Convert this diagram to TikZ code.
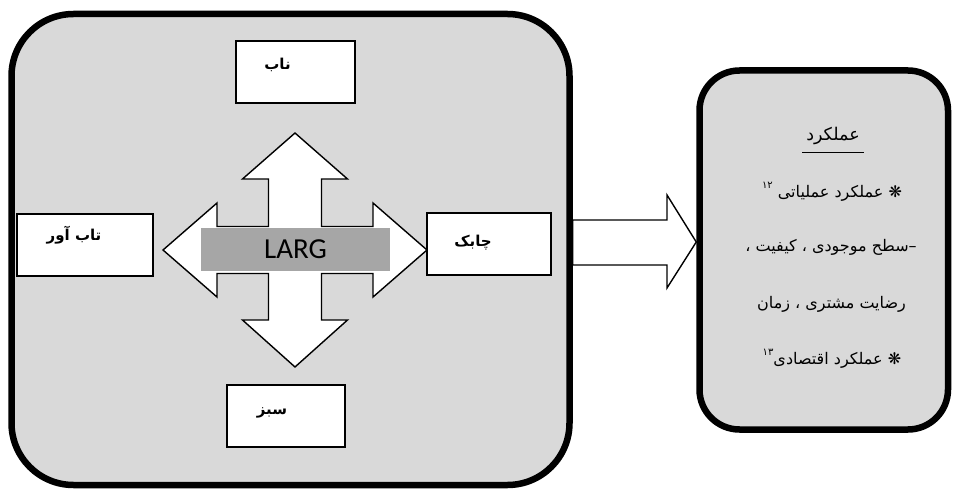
\documentclass[tikz,border=0pt]{standalone}
\usepackage{fontspec}
\TeXXeTstate=1
\newfontfamily\arabicfont[Script=Arabic]{DejaVu Sans}
\newfontfamily\largfont{Carlito}
\usetikzlibrary{calc}

\definecolor{panelgray}{HTML}{D9D9D9}
\definecolor{bargray}{HTML}{A6A6A6}

% right-to-left Persian text
\newcommand{\rtl}[1]{{\arabicfont\beginR #1\endR}}
\newcommand{\supnum}[1]{\raisebox{1.0ex}{\fontsize{10}{10}\selectfont #1}}

\begin{document}
\begin{tikzpicture}[x=1pt,y=-1pt,
  panel/.style={draw=black, line width=6.5pt, fill=panelgray, inner sep=0pt},
  factor/.style={draw=black, line width=1.5pt, fill=white, minimum height=62pt, inner sep=0pt},
  factorlabel/.style={inner sep=0pt, font=\bfseries\fontsize{15}{17}\selectfont},
  blockarrow/.style={draw=black, line width=1.4pt, fill=white, line join=miter},
  bodyline/.style={inner sep=0pt, font=\fontsize{16}{18}\selectfont}]
\useasboundingbox (0,0) rectangle (953,492);

% the two rounded panels
\node[panel, rounded corners=62pt, minimum width=558pt, minimum height=471pt] (left) at (290.5,249.5) {};
\node[panel, rounded corners=40pt, minimum width=248.5pt, minimum height=359pt] (right) at (823.75,250) {};

% block arrow between the panels
\draw[blockarrow] (left.east |- 0,220) -- (667,220) -- (667,195) -- (right.west |- 0,242)
  -- (667,288) -- (667,265) -- (left.east |- 0,265) -- cycle;

% four-way arrow in the left panel
\coordinate (hub) at (295,250);
\draw[blockarrow, shift={(hub)}]
  (0,-117) -- (52.5,-71) -- (26.5,-71) -- (26.5,-23.5) -- (78,-23.5) -- (78,-47) -- (132,0)
  -- (78,47) -- (78,23.5) -- (26.5,23.5) -- (26.5,70) -- (52.5,70) -- (0,117)
  -- (-52.5,70) -- (-26.5,70) -- (-26.5,23.5) -- (-78,23.5) -- (-78,47) -- (-132,0)
  -- (-78,-47) -- (-78,-23.5) -- (-26.5,-23.5) -- (-26.5,-71) -- (-52.5,-71) -- cycle;

\node[fill=bargray, minimum width=189pt, minimum height=43pt, inner sep=0pt,
  font=\largfont\fontsize{29}{29}\selectfont] (larg) at (295.5,249.5) {LARG};

% the four factor boxes
\node[factor, minimum width=119pt] (nab) at (295.5,72) {};
\node[factor, minimum width=136pt] (tabavar) at (85,245) {};
\node[factor, minimum width=124pt] (chabok) at (489,244) {};
\node[factor, minimum width=118pt] (sabz) at (286,416) {};

\node[factorlabel] (nabtxt) at ($(nab.center)+(-18,-7)$) {\rtl{ناب}};
\node[factorlabel] (tabavartxt) at ($(tabavar.center)+(-11,-10)$) {\rtl{تاب آور}};
\node[factorlabel] (chaboktxt) at ($(chabok.center)+(-16,-1)$) {\rtl{چابک}};
\node[factorlabel] (sabztxt) at ($(sabz.center)+(-14,-3)$) {\rtl{سبز}};

% performance panel text
\node[inner sep=0pt, font=\fontsize{17.5}{19}\selectfont] (title) at (833,136) {\rtl{عملکرد}};
\draw[line width=1pt] ($(title.center)+(-31,17)$) -- ($(title.center)+(31,17)$);
\node[bodyline] (l1) at (832,192) {\rtl{❋ عملکرد عملیاتی \supnum{۱۲}}};
\node[bodyline] (l2) at (831,247) {\rtl{–\kern0pt سطح موجودی ، کیفیت ،}};
\node[bodyline] (l3) at (831.5,304) {\rtl{رضایت مشتری ، زمان}};
\node[bodyline] (l4) at (832,359) {\rtl{❋ عملکرد اقتصادی\supnum{۱۳}}};
\end{tikzpicture}
\end{document}
